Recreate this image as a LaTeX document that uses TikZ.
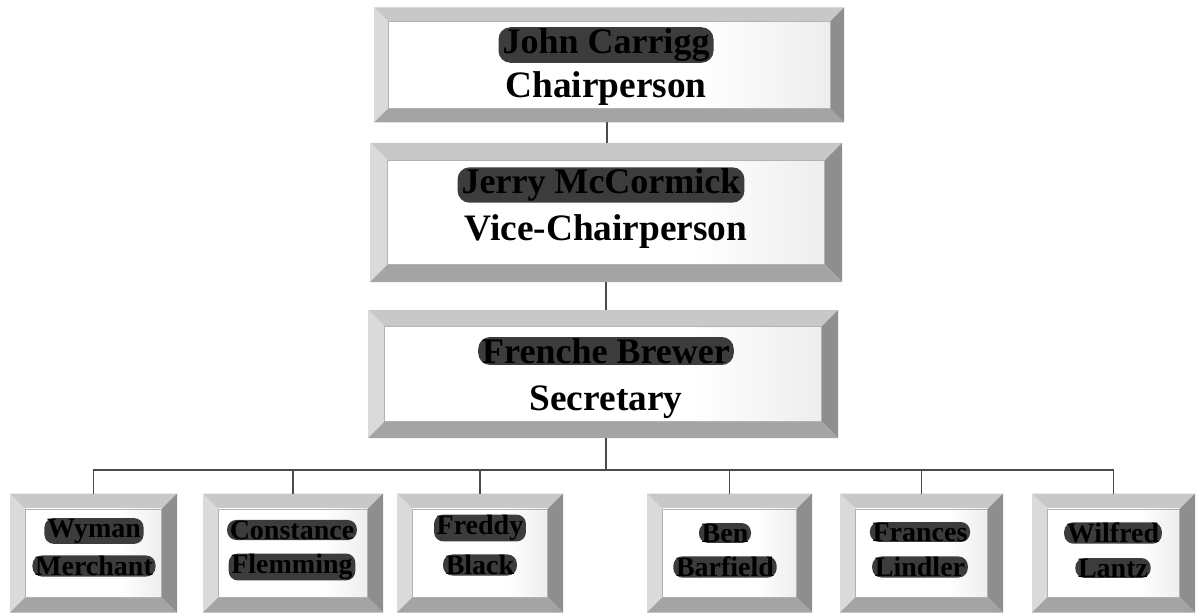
\documentclass[tikz,border=0pt]{standalone}
\usepackage{fontspec}
\setmainfont{Liberation Serif}
\usetikzlibrary{positioning}

\definecolor{bevtop}{HTML}{C8C8C8}
\definecolor{bevleft}{HTML}{DADADA}
\definecolor{bevright}{HTML}{8E8E8E}
\definecolor{bevbottom}{HTML}{A4A4A4}
\definecolor{inkline}{HTML}{4A4A4A}
\definecolor{smudge}{HTML}{3C3C3C}

% face of a plate: pale grey at the sides, white in the middle
\pgfdeclarehorizontalshading{platefaceshade}{100bp}{%
  color(0bp)=(black!14); color(22bp)=(white); color(60bp)=(white);
  color(82bp)=(black!10); color(100bp)=(black!24)}

\tikzset{
  plate/.style={rectangle, inner sep=0pt, outer sep=0pt, draw=none},
  title/.style={font=\fontsize{28}{30}\selectfont\bfseries, text=black, inner sep=0pt},
  bigname/.style={font=\fontsize{27}{29}\selectfont\bfseries, text=black,
    fill=smudge, rounded corners=9pt, inner xsep=3pt, inner ysep=1pt},
  smallname/.style={font=\fontsize{21}{23}\selectfont\bfseries, text=black,
    fill=smudge, rounded corners=7pt, inner xsep=2pt, inner ysep=0.5pt},
  link/.style={draw=inkline, line width=1.1pt}
}

% bevelled plate: four trapezoid edges and a shaded face
\newcommand\bevelplate[2]{%
  \fill[bevtop] (#1.north west) -- (#1.north east)
     -- ([shift={(-#2,-#2)}]#1.north east) -- ([shift={(#2,-#2)}]#1.north west) -- cycle;
  \fill[bevleft] (#1.north west) -- ([shift={(#2,-#2)}]#1.north west)
     -- ([shift={(#2,#2)}]#1.south west) -- (#1.south west) -- cycle;
  \fill[bevright] (#1.north east) -- (#1.south east)
     -- ([shift={(-#2,#2)}]#1.south east) -- ([shift={(-#2,-#2)}]#1.north east) -- cycle;
  \fill[bevbottom] (#1.south west) -- ([shift={(#2,#2)}]#1.south west)
     -- ([shift={(-#2,#2)}]#1.south east) -- (#1.south east) -- cycle;
  \shade[shading=platefaceshade]
     ([shift={(#2,-#2)}]#1.north west) rectangle ([shift={(-#2,#2)}]#1.south east);
  \draw[black!30, line width=0.3pt]
     ([shift={(#2,-#2)}]#1.north west) rectangle ([shift={(-#2,#2)}]#1.south east);
}

\begin{document}
\begin{tikzpicture}[x=0.75pt, y=-0.75pt]
\useasboundingbox (0,0) rectangle (1196,613);

% plates
\node[plate, minimum width=470*0.75pt, minimum height=115*0.75pt] (chair) at (609,65) {};
\node[plate, minimum width=472*0.75pt, minimum height=139*0.75pt] (vice)  at (606,212.5) {};
\node[plate, minimum width=470*0.75pt, minimum height=128*0.75pt] (secr)  at (603,374) {};

\node[plate, minimum width=167*0.75pt, minimum height=119*0.75pt] (m1) at (93.5,553) {};
\node[plate, minimum width=180*0.75pt, minimum height=119*0.75pt] (m2) at (293,553) {};
\node[plate, minimum width=166*0.75pt, minimum height=119*0.75pt] (m3) at (480,553) {};
\node[plate, minimum width=165*0.75pt, minimum height=119*0.75pt] (m4) at (729.5,553) {};
\node[plate, minimum width=163*0.75pt, minimum height=119*0.75pt] (m5) at (921.5,553) {};
\node[plate, minimum width=163*0.75pt, minimum height=119*0.75pt] (m6) at (1113.5,553) {};

\bevelplate{chair}{10.5pt}
\bevelplate{vice}{13pt}
\bevelplate{secr}{12.5pt}
\bevelplate{m1}{11.5pt}
\bevelplate{m2}{11.5pt}
\bevelplate{m3}{11.5pt}
\bevelplate{m4}{11.5pt}
\bevelplate{m5}{11.5pt}
\bevelplate{m6}{11.5pt}

% connectors
\coordinate (bus) at (606,470);
\draw[link] (chair.south -| 607,0) -- (vice.north -| 607,0);
\draw[link] (vice.south -| 606,0) -- (secr.north -| 606,0);
\draw[link] (secr.south -| 606,0) -- (bus);
\draw[link] (m1.north) |- (bus) -| (m6.north);
\draw[link] (m2.north) -- (m2.north |- bus);
\draw[link] (m3.north) -- (m3.north |- bus);
\draw[link] (m4.north) -- (m4.north |- bus);
\draw[link] (m5.north) -- (m5.north |- bus);

% officers
\node[bigname] (n1) at (606,45) {John Carrigg};
\node[title, anchor=base] (t1) at (606,98) {Chairperson};
\node[bigname] (n2) at (601,185) {Jerry McCormick};
\node[title, anchor=base] (t2) at (606,240) {Vice-Chairperson};
\node[bigname] (n3) at (606,351) {Frenche Brewer};
\node[title, anchor=base] (t3) at (606,410) {Secretary};

% members
\node[smallname] (a1) at (94,531) {Wyman};
\node[smallname] (a2) at (94,566) {Merchant};
\node[smallname] (b1) at (292,530) {Constance};
\node[smallname] (b2) at (292,567) {Flemming};
\node[smallname] (c1) at (480,528) {Freddy};
\node[smallname] (c2) at (480,565) {Black};
\node[smallname] (d1) at (725,533) {Ben};
\node[smallname] (d2) at (725,567) {Barfield};
\node[smallname] (e1) at (920,532) {Frances};
\node[smallname] (e2) at (920,567) {Lindler};
\node[smallname] (f1) at (1113,533) {Wilfred};
\node[smallname] (f2) at (1113,568) {Lantz};
\end{tikzpicture}
\end{document}
